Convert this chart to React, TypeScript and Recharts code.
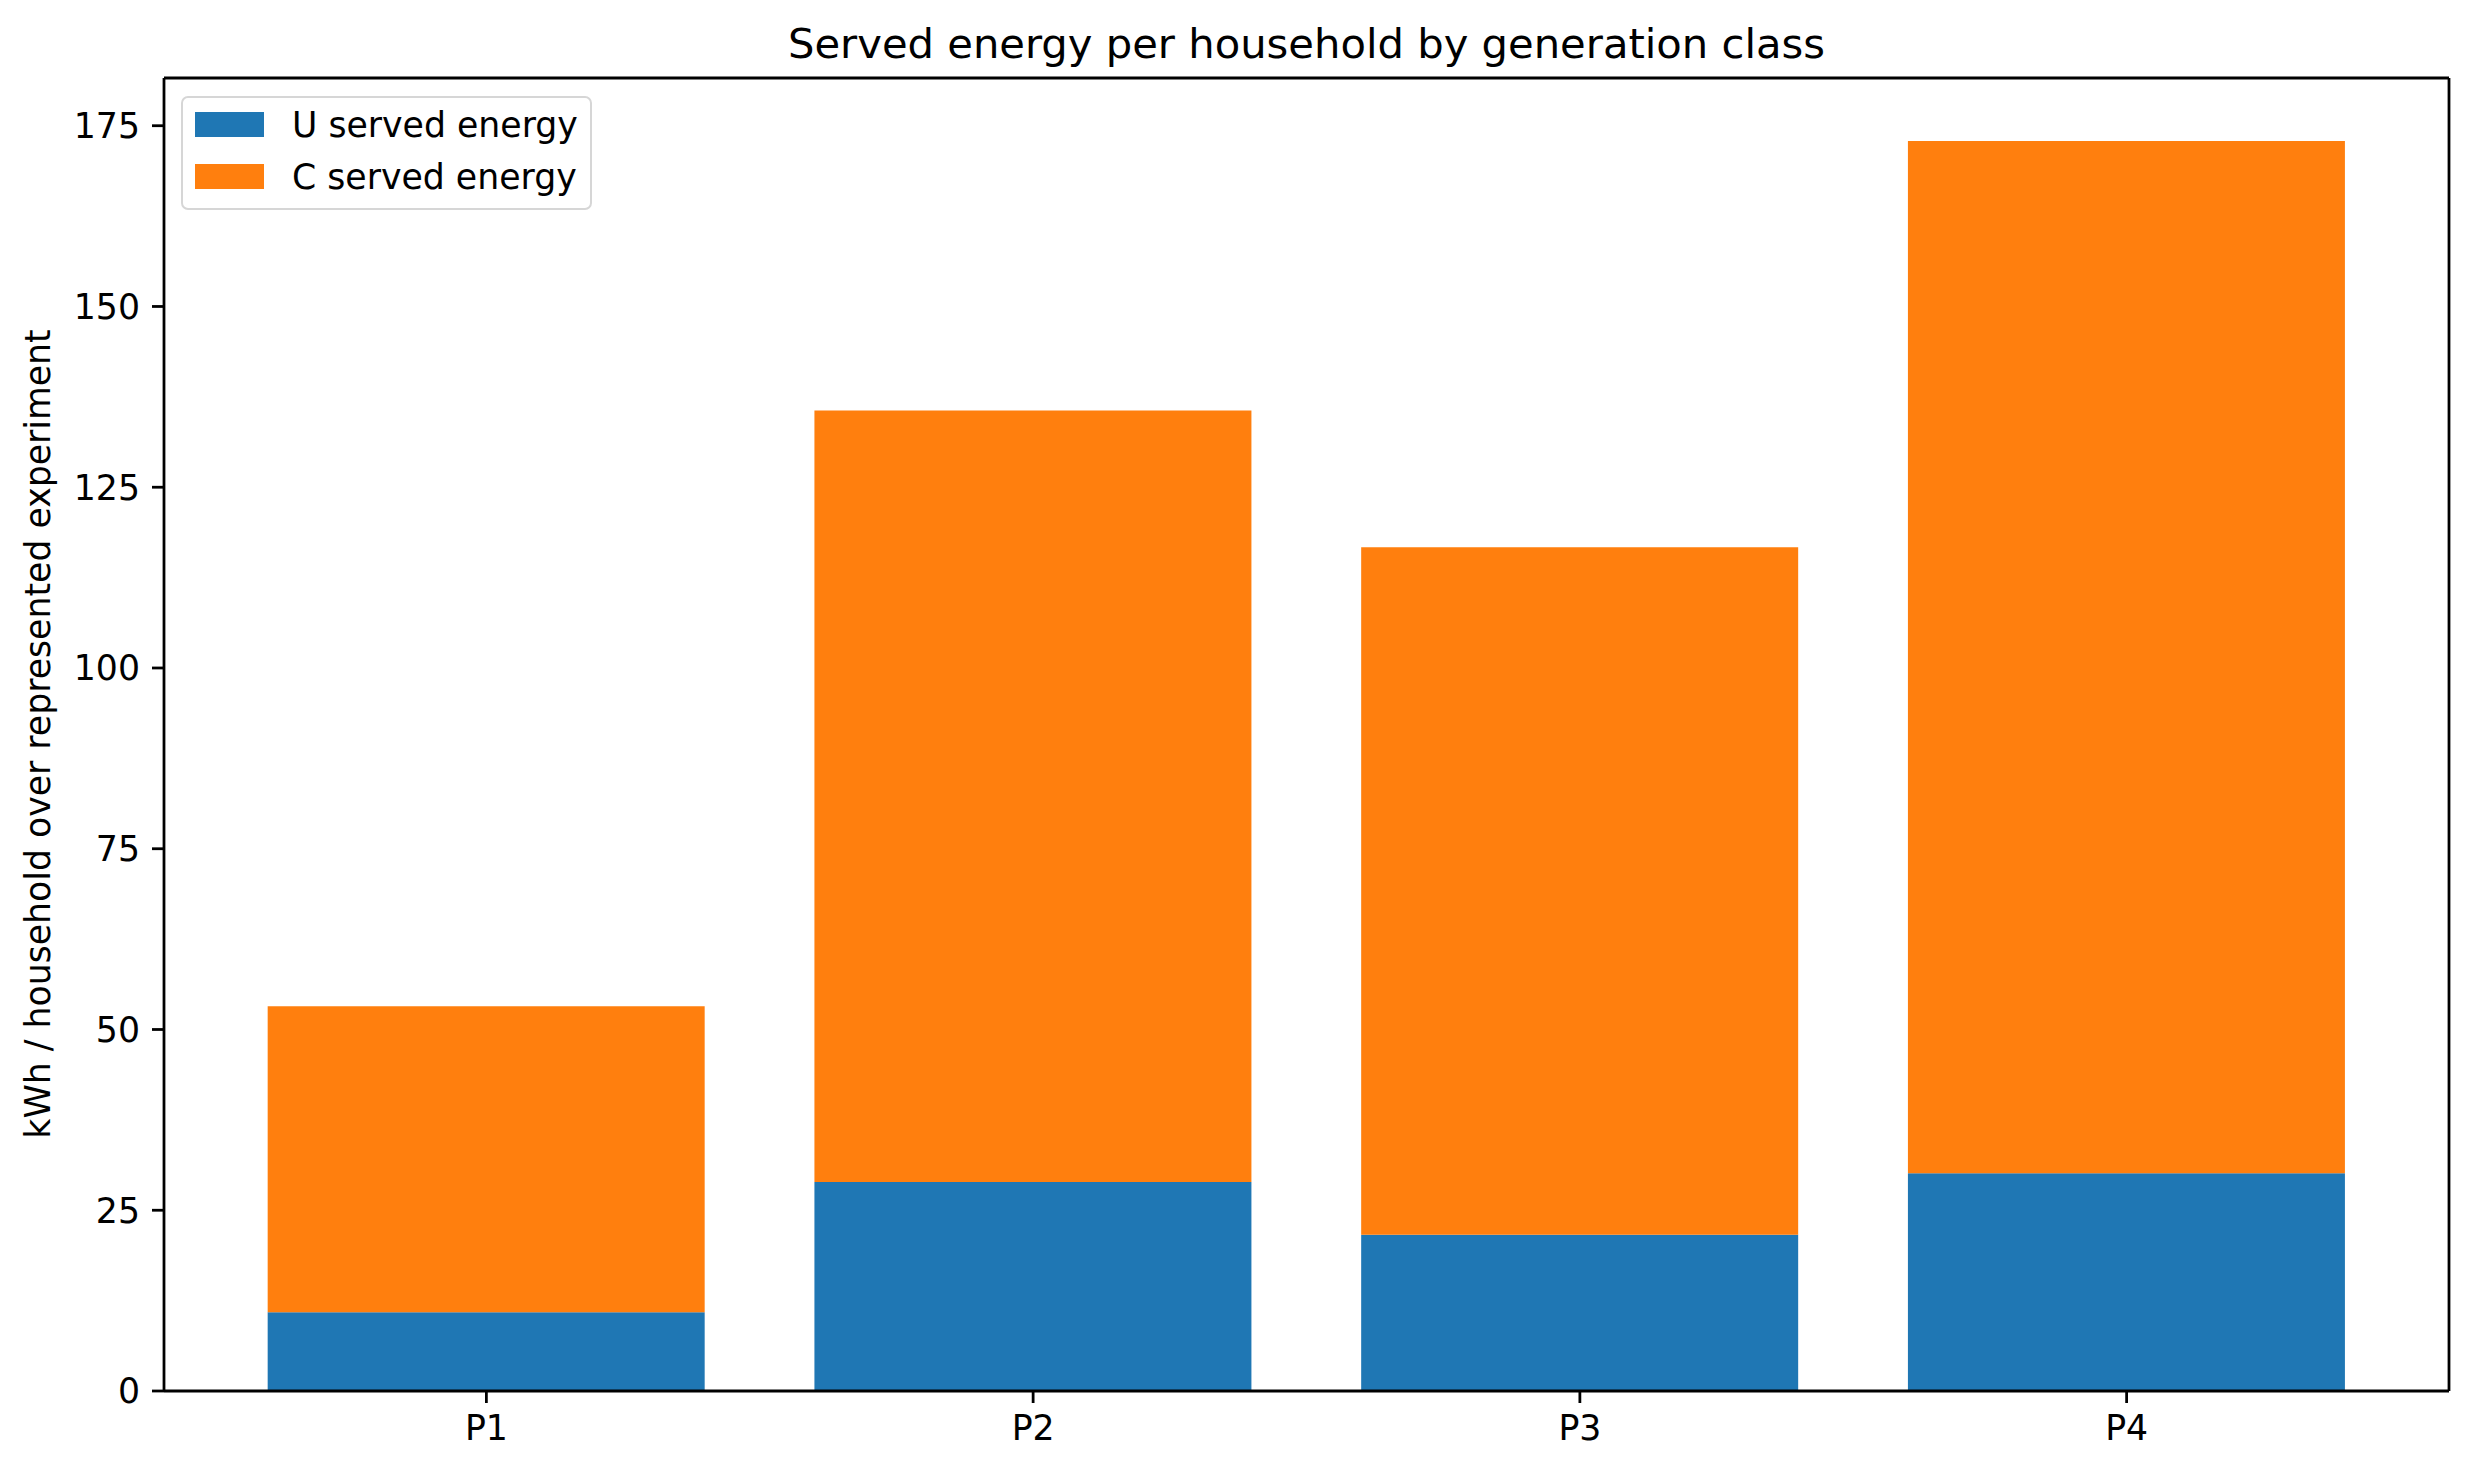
import React from 'react';
import { BarChart, Bar, XAxis, YAxis, Legend } from 'recharts';

const categories = ['P1', 'P2', 'P3', 'P4'];
const uServed = [10.9, 28.9, 21.6, 30.1];
const cServed = [42.3, 106.7, 95.1, 142.8];
const yTicks = [0, 25, 50, 75, 100, 125, 150, 175];
const yDomain = [0, 181.6];

const seriesNames = ['U served energy', 'C served energy'];
const seriesColors = ['#1f77b4', '#ff7f0e'];

const data = categories.map((c, i) => ({ name: c, u: uServed[i], c: cServed[i] }));

const FONT = '"DejaVu Sans", sans-serif';
const LW = 2.78;

const LegendContent = () => {
  return (
    <div style={{ position: 'relative', width: 411, height: 114, fontFamily: FONT }}>
      <div
        style={{
          position: 'absolute',
          left: 0,
          top: 0,
          width: 411,
          height: 114,
          boxSizing: 'border-box',
          border: `${LW}px solid #d6d6d6`,
          borderRadius: 7,
          background: 'rgba(255,255,255,0.8)',
        }}
      />
      {seriesNames.map((name, i) => (
        <React.Fragment key={i}>
          <div
            style={{
              position: 'absolute',
              left: 14,
              top: 16 + i * 52,
              width: 69,
              height: 25,
              background: seriesColors[i],
            }}
          />
          <div
            style={{
              position: 'absolute',
              left: 111,
              top: 16 + i * 52,
              height: 25,
              display: 'flex',
              alignItems: 'center',
              whiteSpace: 'nowrap',
              fontSize: 34.7,
              color: '#000',
            }}
          >
            {name}
          </div>
        </React.Fragment>
      ))}
    </div>
  );
};

export default function App() {
  return (
    <div style={{ position: 'absolute', left: 0, top: 0, width: 2473, height: 1474, background: '#fff' }}>
      <BarChart
        width={2473}
        height={1474}
        data={data}
        margin={{ top: 77, right: 23, bottom: 0, left: 0 }}
        style={{ fontFamily: FONT }}
      >
        <XAxis
          dataKey="name"
          height={83}
          padding={{ left: 49, right: 49 }}
          tickSize={12}
          tickMargin={12}
          tick={{ fill: '#000', fontSize: 34.7, fontFamily: FONT }}
          tickLine={{ stroke: '#000', strokeWidth: LW }}
          axisLine={{ stroke: '#000', strokeWidth: LW }}
        />
        <XAxis
          xAxisId="top"
          orientation="top"
          dataKey="name"
          height={1}
          tick={false}
          tickLine={false}
          axisLine={{ stroke: '#000', strokeWidth: LW }}
        />
        <YAxis
          width={164}
          domain={yDomain}
          ticks={yTicks}
          interval={0}
          tickSize={12}
          tickMargin={12}
          tick={{ fill: '#000', fontSize: 34.7, fontFamily: FONT }}
          tickLine={{ stroke: '#000', strokeWidth: LW }}
          axisLine={{ stroke: '#000', strokeWidth: LW }}
        />
        <YAxis
          yAxisId="right"
          orientation="right"
          width={1}
          domain={yDomain}
          tick={false}
          tickLine={false}
          axisLine={{ stroke: '#000', strokeWidth: LW }}
        />
        <Legend
          layout="vertical"
          align="center"
          verticalAlign="middle"
          wrapperStyle={{ top: 96, left: 181, width: 411, height: 114 }}
          content={LegendContent}
        />
        <Bar dataKey="u" name={seriesNames[0]} stackId="a" fill={seriesColors[0]} isAnimationActive={false} />
        <Bar dataKey="c" name={seriesNames[1]} stackId="a" fill={seriesColors[1]} isAnimationActive={false} />
      </BarChart>
      <svg
        width={2473}
        height={1474}
        style={{ position: 'absolute', left: 0, top: 0, pointerEvents: 'none' }}
      >
        <text x={1306.5} y={58} textAnchor="middle" fontFamily={FONT} fontSize={41.7} fill="#000">
          Served energy per household by generation class
        </text>
        <text
          x={38}
          y={734}
          textAnchor="middle"
          dominantBaseline="central"
          transform="rotate(-90 38 734)"
          fontFamily={FONT}
          fontSize={34.7}
          fill="#000"
        >
          kWh / household over represented experiment
        </text>
      </svg>
    </div>
  );
}
